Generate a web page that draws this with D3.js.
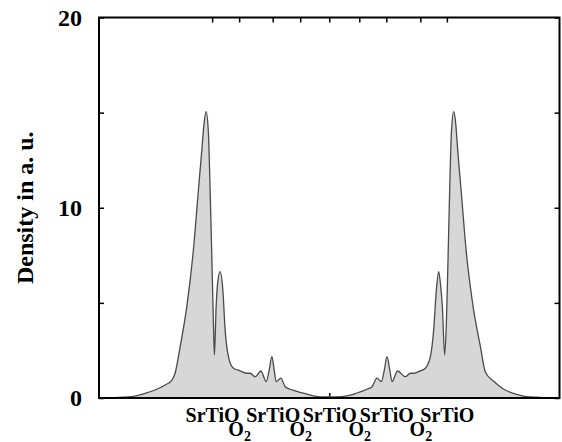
<!DOCTYPE html>
<html>
<head>
<meta charset="utf-8">
<script src="https://cdn.jsdelivr.net/npm/d3@7"></script>
<style>
  body { margin: 0; background: #fff; }
  text { font-family: "Liberation Serif", "Times New Roman", serif; font-weight: bold; fill: #000; }
</style>
</head>
<body>
<div id="root"></div>
<script>
// density profile (position, density)
const profileX = [-22.4, -21.4, -20.4, -19.4, -18.4, -17.4, -16.4, -15.7, -15.4, -14.9, -14.23, -13.57, -13.07,
  -12.73, -12.5, -12.3, -12.07, -11.9, -11.73, -11.57, -11.47, -11.3, -11.15, -10.9, -10.63, -10.4, -10.07,
  -9.57, -8.9, -8.23, -7.9, -7.4, -6.83, -6.3, -6.0, -5.73, -5.5, -5.3, -4.83, -4.4, -3.9, -3.4, -2.57,
  -1.57, -0.8, 0, 0.77, 1.77, 2.7, 3.77, 4.27, 4.77, 5.2, 5.5, 5.77, 6.05, 6.27, 6.83, 7.6, 8.1, 8.43,
  9.1, 9.6, 10.1, 10.43, 10.7, 10.93, 11.1, 11.3, 11.53, 11.7, 11.87, 12.03, 12.2, 12.43, 12.63, 12.83,
  13.17, 13.67, 14.37, 15.1, 15.6, 16.4, 17.4, 18.4, 19.4, 20.4, 21.4, 22.4];
const profileY = [0, 0.01, 0.05, 0.1, 0.24, 0.42, 0.68, 0.95, 1.3, 2.68, 4.8, 7.78, 10.93,
  13.03, 14.45, 15.05, 13.93, 10.93, 7.43, 3.94, 2.26, 4.8, 6.04, 6.64, 5.68, 3.57, 2.17,
  1.56, 1.43, 1.3, 1.3, 1.12, 1.42, 0.86, 1.47, 2.17, 1.47, 0.86, 1.04, 0.59, 0.46, 0.38, 0.25,
  0.11, 0.06, 0.06, 0.06, 0.11, 0.25, 0.46, 0.59, 1.04, 0.86, 1.47, 2.17, 1.47, 0.86, 1.42, 1.12, 1.3, 1.3,
  1.43, 1.56, 2.17, 3.57, 5.68, 6.64, 6.04, 4.8, 2.26, 3.94, 7.43, 10.93, 13.93, 15.05, 14.45, 13.03,
  10.93, 7.78, 4.8, 2.7, 1.35, 0.89, 0.47, 0.24, 0.1, 0.05, 0.01, 0];

const yTicks = [0, 5, 10, 15, 20];
const yTickLabels = ['0', '', '10', '', '20'];
const layerTicks = [-11.7, -9.0, -5.65, -2.9, 0, 3.0, 5.7, 9.1, 11.75];
const layerLabels = ['SrTiO', 'O2', 'SrTiO', 'O2', 'SrTiO', 'O2', 'SrTiO', 'O2', 'SrTiO'];

const width = 562, height = 442;
const margin = { top: 17.5, right: 2.5, bottom: 44, left: 99 };
const w = width - margin.left - margin.right;
const h = height - margin.top - margin.bottom;

const svg = d3.select('#root').append('svg')
  .attr('width', width)
  .attr('height', height);
const g = svg.append('g').attr('transform', `translate(${margin.left},${margin.top})`);

const x = d3.scaleLinear().domain([-23, 23]).range([0, w]);
const y = d3.scaleLinear().domain([0, 20]).range([h, 0]);

const points = profileX.map((d, i) => [d, profileY[i]]);

// bottom ticks go under the filled area
const bottomAxis = g.append('g')
  .attr('transform', `translate(0,${h})`)
  .call(d3.axisBottom(x).tickValues(layerTicks).tickSize(-5).tickFormat((d, i) => layerLabels[i]));
bottomAxis.select('.domain').remove();
bottomAxis.selectAll('text')
  .attr('font-size', 20)
  .attr('dy', null)
  .attr('y', (d, i) => layerLabels[i] === 'O2' ? 38 : 23.5)
  .each(function (d, i) {
    if (layerLabels[i] === 'O2') {
      const t = d3.select(this).text('');
      t.append('tspan').text('O');
      t.append('tspan').attr('font-size', 14).attr('dy', 5).text('2');
    }
  });

g.append('path')
  .datum(points)
  .attr('fill', '#d7d7d7')
  .attr('stroke', '#4a4a4a')
  .attr('stroke-width', 1.3)
  .attr('d', d3.area().x(d => x(d[0])).y0(y(0)).y1(d => y(d[1])).curve(d3.curveMonotoneX));

const leftAxis = g.append('g')
  .call(d3.axisLeft(y).tickValues(yTicks).tickSize(-5).tickFormat((d, i) => yTickLabels[i]));
leftAxis.selectAll('text').attr('font-size', 24).attr('x', -17);

g.append('g')
  .attr('transform', `translate(${w},0)`)
  .call(d3.axisRight(y).tickValues(yTicks).tickSize(-5).tickFormat(''));

g.append('g')
  .call(d3.axisTop(x).tickValues(layerTicks).tickSize(-5).tickFormat(''));

g.selectAll('.domain').remove();
g.selectAll('.tick line').attr('stroke', '#000').attr('stroke-width', 1.5);
g.selectAll('.tick text').attr('fill', '#000');

g.append('rect')
  .attr('width', w)
  .attr('height', h)
  .attr('fill', 'none')
  .attr('stroke', '#000')
  .attr('stroke-width', 2);

svg.append('text')
  .attr('transform', `translate(33,${margin.top + h / 2}) rotate(-90)`)
  .attr('text-anchor', 'middle')
  .attr('font-size', 24)
  .text('Density in a. u.');
</script>
</body>
</html>
